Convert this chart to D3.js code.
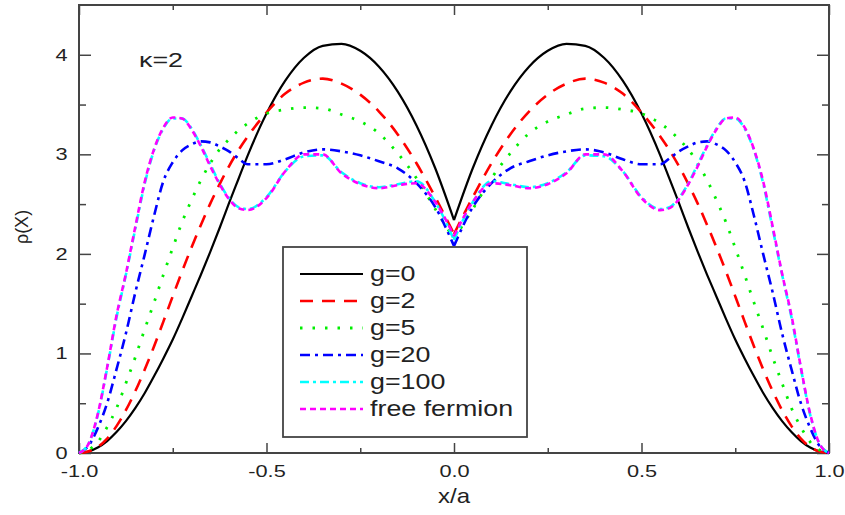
<!DOCTYPE html>
<html>
<head>
<meta charset="utf-8">
<script src="https://cdn.jsdelivr.net/npm/d3@7"></script>
<style>
  body { margin: 0; background: #fff; }
  text { font-family: "Liberation Sans", Arial, Helvetica, sans-serif; fill: #222; }
</style>
</head>
<body>
<div id="wrapper"></div>
<script>
// x/a sample positions (finer near the walls)
const xs = [-1, -0.975, -0.95, -0.925, -0.9, -0.875, -0.85, -0.825, -0.8, -0.775, -0.75, -0.725, -0.7, -0.675, -0.65, -0.625, -0.6, -0.575, -0.55,
  -0.5, -0.45, -0.4, -0.35, -0.3, -0.25, -0.2, -0.15, -0.1, -0.05, 0, 0.05, 0.1, 0.15, 0.2, 0.25, 0.3, 0.35, 0.4, 0.45, 0.5,
  0.55, 0.575, 0.6, 0.625, 0.65, 0.675, 0.7, 0.725, 0.75, 0.775, 0.8, 0.825, 0.85, 0.875, 0.9, 0.925, 0.95, 0.975, 1]

// density rho(x)
const rhoG0 = [0, 0.015, 0.055, 0.12, 0.21, 0.32, 0.45, 0.60, 0.77, 0.95, 1.14, 1.35, 1.57, 1.79, 2.02, 2.26, 2.51, 2.75, 2.99,
  3.41, 3.74, 3.97, 4.09, 4.11, 4.04, 3.88, 3.63, 3.29, 2.86, 2.34, 2.86, 3.29, 3.63, 3.88, 4.04, 4.11, 4.09, 3.97, 3.74, 3.41,
  2.99, 2.75, 2.51, 2.26, 2.02, 1.79, 1.57, 1.35, 1.14, 0.95, 0.77, 0.60, 0.45, 0.32, 0.21, 0.12, 0.055, 0.015, 0]
const rhoG2 = [0, 0.015, 0.06, 0.145, 0.27, 0.43, 0.62, 0.835, 1.07, 1.32, 1.575, 1.825, 2.065, 2.29, 2.505, 2.70, 2.88, 3.04, 3.18,
  3.42, 3.61, 3.72, 3.76, 3.71, 3.60, 3.43, 3.20, 2.91, 2.57, 2.20, 2.57, 2.91, 3.20, 3.43, 3.60, 3.71, 3.76, 3.72, 3.61, 3.42,
  3.18, 3.04, 2.88, 2.70, 2.505, 2.29, 2.065, 1.825, 1.575, 1.32, 1.07, 0.835, 0.62, 0.43, 0.27, 0.145, 0.06, 0.015, 0]
const rhoG5 = [0, 0.03, 0.11, 0.26, 0.45, 0.70, 0.96, 1.24, 1.51, 1.79, 2.06, 2.32, 2.54, 2.74, 2.91, 3.05, 3.15, 3.24, 3.31,
  3.41, 3.45, 3.47, 3.46, 3.40, 3.33, 3.21, 3.01, 2.76, 2.45, 2.15, 2.45, 2.76, 3.01, 3.21, 3.33, 3.40, 3.46, 3.47, 3.45, 3.41,
  3.31, 3.24, 3.15, 3.05, 2.91, 2.74, 2.54, 2.32, 2.06, 1.79, 1.51, 1.24, 0.96, 0.70, 0.45, 0.26, 0.11, 0.03, 0]
const rhoG20 = [0, 0.07, 0.25, 0.50, 0.84, 1.20, 1.61, 1.99, 2.38, 2.73, 2.92, 3.04, 3.10, 3.13, 3.12, 3.08, 3.03, 2.96, 2.90,
  2.90, 2.95, 3.02, 3.05, 3.03, 2.99, 2.93, 2.86, 2.71, 2.47, 2.08, 2.47, 2.71, 2.86, 2.93, 2.99, 3.03, 3.05, 3.02, 2.95, 2.90,
  2.90, 2.96, 3.03, 3.08, 3.12, 3.13, 3.10, 3.04, 2.92, 2.73, 2.38, 1.99, 1.61, 1.20, 0.84, 0.50, 0.25, 0.07, 0]
const rhoG100 = [0, 0.09, 0.38, 0.85, 1.36, 1.79, 2.25, 2.70, 3.04, 3.26, 3.36, 3.36, 3.26, 3.09, 2.90, 2.71, 2.56, 2.47, 2.45,
  2.57, 2.83, 2.98, 2.99, 2.82, 2.71, 2.67, 2.70, 2.73, 2.52, 2.14, 2.52, 2.73, 2.70, 2.67, 2.71, 2.82, 2.99, 2.98, 2.83, 2.57,
  2.45, 2.47, 2.56, 2.71, 2.90, 3.09, 3.26, 3.36, 3.36, 3.26, 3.04, 2.70, 2.25, 1.79, 1.36, 0.85, 0.38, 0.09, 0]
const rhoFree = [0, 0.09, 0.39, 0.86, 1.38, 1.80, 2.27, 2.72, 3.05, 3.27, 3.37, 3.36, 3.25, 3.08, 2.88, 2.70, 2.55, 2.46, 2.44,
  2.56, 2.83, 3.00, 3.00, 2.81, 2.70, 2.66, 2.69, 2.71, 2.52, 2.18, 2.52, 2.71, 2.69, 2.66, 2.70, 2.81, 3.00, 3.00, 2.83, 2.56,
  2.44, 2.46, 2.55, 2.70, 2.88, 3.08, 3.25, 3.36, 3.37, 3.27, 3.05, 2.72, 2.27, 1.80, 1.38, 0.86, 0.39, 0.09, 0]

const seriesNames = ['g=0', 'g=2', 'g=5', 'g=20', 'g=100', 'free fermion']
const xMajor = [-1, -0.5, 0, 0.5, 1]
const xMinor = [-0.75, -0.25, 0.25, 0.75]
const yMajor = [0, 1, 2, 3, 4]
const yMinor = [0.5, 1.5, 2.5, 3.5]

const series = [
  { name: seriesNames[0], values: rhoG0, color: '#000000', dash: null, width: 2.2 },
  { name: seriesNames[1], values: rhoG2, color: '#ff0000', dash: '13,9', width: 2.6 },
  { name: seriesNames[2], values: rhoG5, color: '#00ee00', dash: '2.5,10', width: 2.8 },
  { name: seriesNames[3], values: rhoG20, color: '#0000ff', dash: '10,5,3,5', width: 2.6 },
  { name: seriesNames[4], values: rhoG100, color: '#00ffff', dash: '9,4,3,4', width: 2.6 },
  { name: seriesNames[5], values: rhoFree, color: '#ff00ff', dash: '6,4', width: 2.6 },
]

const dimensions = {
  width: 845,
  height: 515,
  margin: { top: 5, right: 16, bottom: 62, left: 79 },
}
dimensions.boundedWidth = dimensions.width - dimensions.margin.left - dimensions.margin.right
dimensions.boundedHeight = dimensions.height - dimensions.margin.top - dimensions.margin.bottom

const stretch = 1.28 // the text in the picture is wider than plain Arial

const svg = d3.select('#wrapper')
  .append('svg')
  .attr('width', dimensions.width)
  .attr('height', dimensions.height)

const bounds = svg.append('g')
  .attr('transform', `translate(${dimensions.margin.left},${dimensions.margin.top})`)

const xScale = d3.scaleLinear()
  .domain([-1, 1])
  .range([0, dimensions.boundedWidth])

const yScale = d3.scaleLinear()
  .domain([0, 4.5])
  .range([dimensions.boundedHeight, 0])

const axisColor = '#444'

function styleAxis(g) {
  g.select('.domain').remove()
  g.selectAll('line').attr('stroke', axisColor).attr('stroke-width', 1.5)
}

// major + minor ticks, all pointing inward, on all four sides
const bottomAxis = bounds.append('g')
  .attr('transform', `translate(0,${dimensions.boundedHeight})`)
  .call(d3.axisBottom(xScale).tickValues(xMajor).tickSize(-10).tickPadding(12).tickFormat(d => d.toFixed(1)))
bottomAxis.call(styleAxis)
bottomAxis.selectAll('text')
  .style('font-size', '17px')
  .attr('fill', '#222')
  .attr('transform', `scale(${stretch},1)`)
bounds.append('g')
  .attr('transform', `translate(0,${dimensions.boundedHeight})`)
  .call(d3.axisBottom(xScale).tickValues(xMinor).tickSize(-5).tickFormat(''))
  .call(styleAxis)
bounds.append('g')
  .call(d3.axisTop(xScale).tickValues(xMajor).tickSize(-10).tickFormat(''))
  .call(styleAxis)
bounds.append('g')
  .call(d3.axisTop(xScale).tickValues(xMinor).tickSize(-5).tickFormat(''))
  .call(styleAxis)

const leftAxis = bounds.append('g')
  .call(d3.axisLeft(yScale).tickValues(yMajor).tickSize(-12).tickPadding(9).tickFormat(d3.format('d')))
leftAxis.call(styleAxis)
leftAxis.selectAll('text')
  .style('font-size', '17px')
  .attr('fill', '#222')
  .attr('transform', `scale(${stretch},1)`)
bounds.append('g')
  .call(d3.axisLeft(yScale).tickValues(yMinor).tickSize(-7).tickFormat(''))
  .call(styleAxis)
bounds.append('g')
  .attr('transform', `translate(${dimensions.boundedWidth},0)`)
  .call(d3.axisRight(yScale).tickValues(yMajor).tickSize(-12).tickFormat(''))
  .call(styleAxis)
bounds.append('g')
  .attr('transform', `translate(${dimensions.boundedWidth},0)`)
  .call(d3.axisRight(yScale).tickValues(yMinor).tickSize(-7).tickFormat(''))
  .call(styleAxis)

// frame
bounds.append('rect')
  .attr('width', dimensions.boundedWidth)
  .attr('height', dimensions.boundedHeight)
  .attr('fill', 'none')
  .attr('stroke', axisColor)
  .attr('stroke-width', 2)

// curves: each half drawn separately so the cusp at x=0 stays sharp
const lineGen = d3.line()
  .x(d => xScale(d[0]))
  .y(d => yScale(d[1]))
  .curve(d3.curveMonotoneX)

const linesGroup = bounds.append('g')
series.forEach(s => {
  const pts = xs.map((x, i) => [x, s.values[i]])
  const left = pts.filter(p => p[0] <= 0)
  const right = pts.filter(p => p[0] >= 0)
  linesGroup.append('path')
    .attr('d', lineGen(left) + lineGen(right))
    .attr('fill', 'none')
    .attr('stroke', s.color)
    .attr('stroke-width', s.width)
    .attr('stroke-dasharray', s.dash)
    .attr('stroke-linejoin', 'round')
})

// kappa label
svg.append('text')
  .attr('transform', `translate(139,67) scale(${stretch},1)`)
  .style('font-size', '21px')
  .text('κ=2')

// legend
const legend = svg.append('g')
legend.append('rect')
  .attr('x', 283)
  .attr('y', 247)
  .attr('width', 244)
  .attr('height', 190)
  .attr('fill', 'none')
  .attr('stroke', axisColor)
  .attr('stroke-width', 1.8)

const legendRow = d3.scalePoint()
  .domain(seriesNames)
  .range([274, 409])

series.forEach(s => {
  const ly = legendRow(s.name)
  legend.append('line')
    .attr('x1', 300)
    .attr('x2', 363)
    .attr('y1', ly)
    .attr('y2', ly)
    .attr('stroke', s.color)
    .attr('stroke-width', s.width)
    .attr('stroke-dasharray', s.dash)
  legend.append('text')
    .attr('transform', `translate(370,${ly + 7}) scale(1.22,1)`)
    .style('font-size', '22px')
    .text(s.name)
})

// axis titles
svg.append('text')
  .attr('transform', `translate(454,503) scale(1.2,1)`)
  .style('text-anchor', 'middle')
  .style('font-size', '20px')
  .text('x/a')

svg.append('text')
  .attr('transform', 'translate(28,227) rotate(-90)')
  .style('text-anchor', 'middle')
  .style('font-size', '18px')
  .text('ρ(X)')
</script>
</body>
</html>
